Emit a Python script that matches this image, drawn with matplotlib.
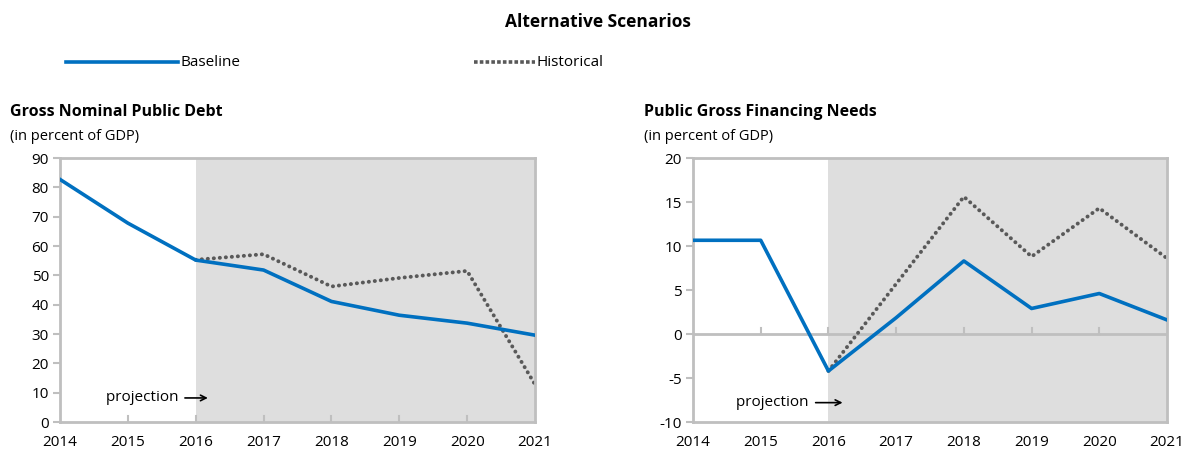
import matplotlib
matplotlib.use("Agg")
import matplotlib.pyplot as plt

years = [2014, 2015, 2016, 2017, 2018, 2019, 2020, 2021]
debt_baseline = [82.7, 67.8, 55.2, 51.8, 41.1, 36.4, 33.7, 29.6]
debt_hist_years = [2016, 2017, 2018, 2019, 2020, 2021]
debt_historical = [55.3, 57.2, 46.2, 49.1, 51.5, 12.8]
gfn_baseline = [10.65, 10.65, -4.2, 1.85, 8.3, 2.9, 4.6, 1.6]
gfn_hist_years = [2016, 2017, 2018, 2019, 2020, 2021]
gfn_historical = [-4.2, 5.7, 15.6, 8.8, 14.3, 8.6]

plt.rcParams['font.family'] = ['Open Sans', 'DejaVu Sans']

BLUE = '#0070C0'
GRAY = '#595959'
SPINE = '#BFBFBF'
SHADE = '#DEDEDE'
FS = 11

fig = plt.figure(figsize=(11.96, 4.54), dpi=100)

fig.text(0.5, 1 - 22/454, 'Alternative Scenarios', ha='center', va='center',
         fontsize=12.5, fontweight='bold')

# legend
fig.add_artist(plt.Line2D([66/1196, 178/1196], [1-62/454]*2, color=BLUE, lw=2.6,
                          transform=fig.transFigure))
fig.text(181/1196, 1-62/454, 'Baseline', ha='left', va='center', fontsize=FS)
fig.add_artist(plt.Line2D([474/1196, 535/1196], [1-62/454]*2, color=GRAY, lw=2.6,
                          ls=(0, (1, 0.6)), transform=fig.transFigure))
fig.text(537/1196, 1-62/454, 'Historical', ha='left', va='center', fontsize=FS)


def make_ax(x0, x1, ylim, yticks, base, hy, hist, title, tx, proj_y, arrow):
    ax = fig.add_axes([x0/1196, 1-422/454, (x1-x0)/1196, (422-158)/454])
    ax.axvspan(2016, 2021, color=SHADE, zorder=0, lw=0)
    ax.plot(years, base, color=BLUE, lw=2.6, zorder=3)
    ax.plot(hy, hist, color=GRAY, lw=2.8, ls=(0, (0.05, 1.5)),
            dash_capstyle='round', zorder=2)
    ax.set_xlim(2014, 2021)
    ax.set_ylim(*ylim)
    ax.set_yticks(yticks)
    ax.set_yticklabels([str(v) for v in yticks])
    ax.set_xticks(years)
    ax.set_xticklabels([str(y) for y in years])
    for s in ax.spines.values():
        s.set_color(SPINE)
        s.set_linewidth(2)
    ax.tick_params(axis='y', direction='out', length=5, width=1.5, color=SPINE,
                   labelsize=FS, pad=3)
    ax.tick_params(axis='x', length=0, labelsize=FS, pad=9)
    if ylim[0] < 0:
        ax.axhline(0, color=SPINE, lw=2, zorder=1)
    for y in years[1:-1]:
        ax.plot([y, y], [0, (ylim[1]-ylim[0])*0.022], color=SPINE, lw=1.5, zorder=1)
    ax.text(arrow[0], proj_y, 'projection ', ha='right', va='center', fontsize=FS)
    ax.annotate('', xy=(arrow[1], proj_y), xytext=(arrow[0], proj_y),
                arrowprops=dict(arrowstyle='->', color='black', lw=1.2))
    fig.text(tx/1196, 1-112/454, title, ha='left', va='center', fontsize=11.5,
             fontweight='bold')
    fig.text(tx/1196, 1-137/454, '(in percent of GDP)', ha='left', va='center',
             fontsize=10.5)
    return ax


make_ax(60, 535, (0, 90), [0, 10, 20, 30, 40, 50, 60, 70, 80, 90],
        debt_baseline, debt_hist_years, debt_historical,
        'Gross Nominal Public Debt', 10, 8.2, (2015.8, 2016.22))
make_ax(693, 1167, (-10, 20), [-10, -5, 0, 5, 10, 15, 20],
        gfn_baseline, gfn_hist_years, gfn_historical,
        'Public Gross Financing Needs', 644, -7.8, (2015.77, 2016.25))

fig.savefig('out.png', dpi=100)
